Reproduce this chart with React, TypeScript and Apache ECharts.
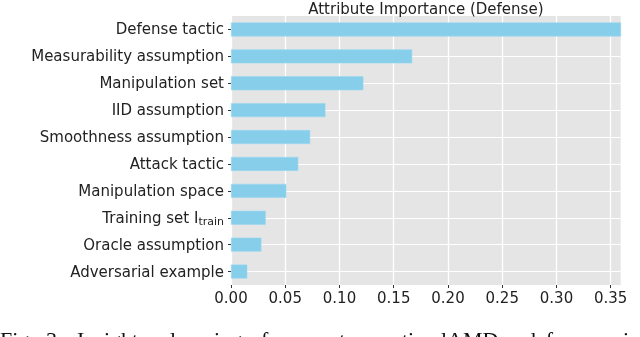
import React, { useEffect, useRef } from "react";
import * as echarts from "echarts";

const categories = [
  "Defense tactic",
  "Measurability assumption",
  "Manipulation set",
  "IID assumption",
  "Smoothness assumption",
  "Attack tactic",
  "Manipulation space",
  "Training set I_train",
  "Oracle assumption",
  "Adversarial example",
];
const importance = [0.36, 0.167, 0.122, 0.087, 0.073, 0.062, 0.051, 0.032, 0.028, 0.015];
const xTicks = [0, 0.05, 0.1, 0.15, 0.2, 0.25, 0.3, 0.35];
const chartTitle = "Attribute Importance (Defense)";
const captionWords: [string, number][] = [
  ["Fig.", 0],
  ["3:", 46],
  ["Insight", 77],
  ["learning", 170],
  ["of", 250],
  ["current", 283],
  ["optimal", 380],
  ["AMD", 447],
  ["defense", 525],
  ["in", 623],
];

const FONT = "DejaVu Sans";

export default function App() {
  const ref = useRef<HTMLDivElement>(null);
  useEffect(() => {
    if (!ref.current) return;
    const chart = echarts.init(ref.current, undefined, { renderer: "svg" });
    const gridLeft = 231;
    const gridRight = 19.3;
    const panelCenter = (gridLeft + (640 - gridRight)) / 2;
    chart.setOption({
      animation: false,
      textStyle: { fontFamily: FONT },
      grid: {
        left: gridLeft,
        right: gridRight,
        top: 16,
        bottom: 52,
        show: true,
        backgroundColor: "#E5E5E5",
        borderWidth: 0,
        containLabel: false,
      },
      xAxis: {
        type: "value",
        min: 0,
        max: 0.3592,
        interval: 0.05,
        axisLine: { show: false },
        axisTick: {
          show: true,
          length: 3,
          customValues: xTicks,
          lineStyle: { color: "#333", width: 1 },
        },
        axisLabel: {
          customValues: xTicks,
          formatter: (v: number) => v.toFixed(2),
          fontFamily: FONT,
          fontSize: 15,
          color: "#222",
          margin: 5,
        },
        splitLine: { show: true, lineStyle: { color: "#ffffff", width: 1.3 } },
      },
      yAxis: {
        type: "category",
        data: categories,
        inverse: true,
        axisLine: { show: false },
        axisTick: {
          show: true,
          length: 3,
          alignWithLabel: true,
          lineStyle: { color: "#333", width: 1 },
        },
        axisLabel: {
          fontFamily: FONT,
          fontSize: 15,
          color: "#222",
          margin: 7,
          lineHeight: 18,
          formatter: (v: string) => v.replace(/_(\w+)$/, "{sub|$1}"),
          rich: {
            sub: {
              fontFamily: FONT,
              fontSize: 11,
              color: "#222",
              lineHeight: 8,
              verticalAlign: "bottom",
            },
          },
        },
        splitLine: { show: false },
      },
      series: [
        {
          type: "line",
          data: [],
          z: 1,
          silent: true,
          markLine: {
            z: 1,
            silent: true,
            symbol: "none",
            label: { show: false },
            lineStyle: { color: "#ffffff", width: 1, type: "solid" },
            data: categories.map((c) => ({ yAxis: c })),
          },
        },
        {
          type: "bar",
          data: importance,
          z: 3,
          barWidth: 14,
          clip: true,
          itemStyle: { color: "#87CEEB", borderColor: "#9AD6EE", borderWidth: 0.6 },
        },
      ],
      graphic: [
        {
          type: "text",
          x: panelCenter,
          y: 8.5,
          style: {
            text: chartTitle,
            fontFamily: FONT,
            fontSize: 15,
            fill: "#222",
            textAlign: "center",
            textVerticalAlign: "middle",
          },
        },
        ...captionWords.map(([w, x]) => ({
          type: "text",
          x: x,
          y: 328,
          style: {
            text: w,
            fontFamily: "Liberation Serif",
            fontSize: 22,
            fill: "#111",
            textAlign: "left",
            textVerticalAlign: "top",
          },
        })),
      ],
    });
    return () => chart.dispose();
  }, []);
  return (
    <div
      ref={ref}
      style={{ position: "fixed", left: 0, top: 0, width: 640, height: 337 }}
    />
  );
}
